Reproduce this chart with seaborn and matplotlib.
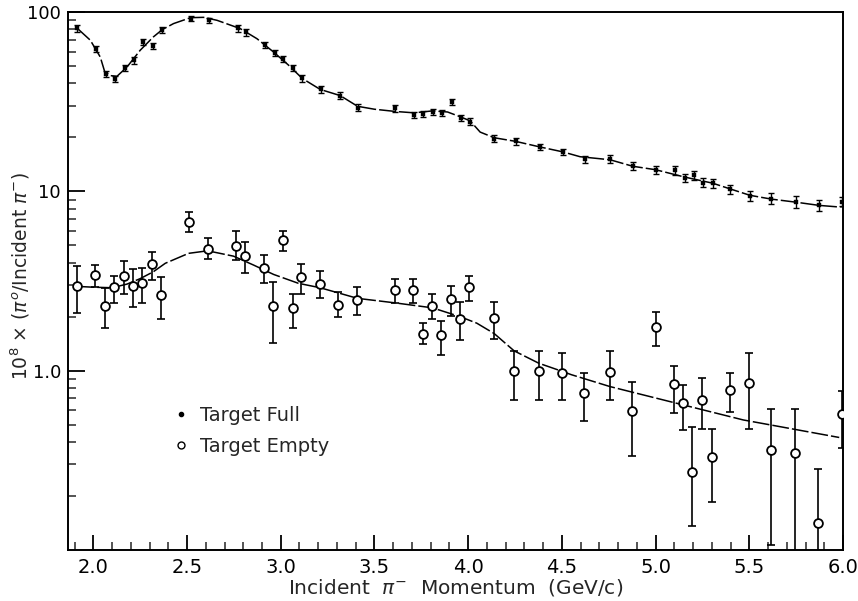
import matplotlib
matplotlib.use("Agg")
import matplotlib.pyplot as plt
from matplotlib.ticker import FixedLocator, NullFormatter, MultipleLocator
from matplotlib.lines import Line2D
import seaborn as sns
import pandas as pd

# ---- Target Full data ----
x_full = [1.915, 2.015, 2.068, 2.117, 2.167, 2.217, 2.267, 2.316, 2.368, 2.519, 2.619, 2.770,
          2.814, 2.917, 2.967, 3.013, 3.065, 3.115, 3.213, 3.317, 3.410, 3.611, 3.712, 3.760,
          3.812, 3.860, 3.916, 3.961, 4.011, 4.139, 4.253, 4.381, 4.505, 4.624, 4.757, 4.878,
          5.003, 5.104, 5.157, 5.205, 5.255, 5.305, 5.399, 5.504, 5.618, 5.749, 5.872, 5.996]
y_full = [81, 62, 45, 42.2, 48.7, 53.8, 68, 64.7, 79.8, 92, 90, 81,
          77, 65.5, 58.9, 54.5, 48.8, 42.6, 37, 34.2, 29.3, 29, 26.6, 27,
          27.7, 27.4, 31.5, 25.6, 24.5, 19.7, 19.0, 17.7, 16.6, 15.1, 15.1, 13.8,
          13.2, 13.1, 11.9, 12.3, 11.2, 11.1, 10.3, 9.4, 9.1, 8.75, 8.4, 8.75]
err_full = [3.3, 2.5, 1.8, 1.7, 2.0, 2.2, 2.7, 2.6, 3.2, 2.8, 2.7, 3.2,
            3.1, 2.6, 2.4, 2.2, 2.0, 1.7, 1.5, 1.4, 1.2, 1.2, 1.1, 1.1,
            1.1, 1.1, 1.3, 1.0, 1.0, 0.8, 0.8, 0.7, 0.7, 0.7, 0.8, 0.7,
            0.7, 0.8, 0.6, 0.7, 0.6, 0.6, 0.6, 0.6, 0.65, 0.65, 0.6, 0.5]

# ---- Target Empty data ----
x_empty = [1.915, 2.011, 2.060, 2.112, 2.164, 2.213, 2.261, 2.315, 2.361, 2.512, 2.612, 2.761,
           2.809, 2.909, 2.958, 3.011, 3.063, 3.109, 3.207, 3.308, 3.408, 3.607, 3.705, 3.757,
           3.808, 3.856, 3.908, 3.957, 4.003, 4.139, 4.245, 4.377, 4.503, 4.620, 4.757, 4.876,
           5.001, 5.097, 5.148, 5.196, 5.250, 5.300, 5.399, 5.499, 5.614, 5.746, 5.865, 5.995]
y_empty = [2.98, 3.40, 2.29, 2.93, 3.37, 2.96, 3.09, 3.91, 2.64, 6.74, 4.78, 4.97,
           4.35, 3.75, 2.29, 5.35, 2.23, 3.31, 3.04, 2.31, 2.49, 2.82, 2.82, 1.61,
           2.30, 1.58, 2.50, 1.95, 2.94, 1.97, 1.00, 0.99, 0.975, 0.748, 0.987, 0.596,
           1.76, 0.843, 0.658, 0.272, 0.687, 0.332, 0.784, 0.858, 0.362, 0.349, 0.141, 0.574]
hi_empty = [3.82, 3.90, 2.88, 3.37, 4.07, 3.67, 3.73, 4.58, 3.34, 7.69, 5.51, 6.0,
            5.23, 4.39, 3.13, 6.03, 2.67, 3.93, 3.61, 2.74, 2.92, 3.23, 3.23, 1.85,
            2.67, 1.88, 2.97, 2.42, 3.38, 2.40, 1.29, 1.28, 1.26, 0.975, 1.29, 0.862,
            2.12, 1.066, 0.832, 0.488, 0.907, 0.472, 0.975, 1.25, 0.609, 0.609, 0.283, 0.774]
lo_empty = [2.09, 2.92, 1.72, 2.39, 2.66, 2.26, 2.37, 3.20, 1.94, 5.90, 4.18, 4.15,
            3.49, 3.07, 1.42, 4.66, 1.72, 2.66, 2.53, 2.00, 2.04, 2.37, 2.37, 1.41,
            1.95, 1.22, 2.02, 1.48, 2.45, 1.51, 0.687, 0.687, 0.687, 0.525, 0.687, 0.335,
            1.38, 0.584, 0.467, 0.136, 0.472, 0.186, 0.589, 0.473, 0.107, 0.05, 0.05, 0.369]

# ---- Fitted curves ----
cx_full = [1.915, 1.984, 2.037, 2.06, 2.09, 2.126, 2.18, 2.25, 2.32, 2.368, 2.428, 2.519,
           2.588, 2.66, 2.784, 2.873, 2.962, 3.042, 3.115, 3.211, 3.317, 3.41, 3.5, 3.61,
           3.712, 3.81, 3.89, 3.96, 4.011, 4.064, 4.139, 4.253, 4.381, 4.505, 4.597, 4.757,
           4.878, 5.0, 5.157, 5.305, 5.4, 5.504, 5.618, 5.749, 5.872, 5.966, 6.0]
cy_full = [81, 69.6, 56.1, 46.7, 44.2, 43.8, 49.4, 61.2, 72.6, 79.8, 86.2, 93,
           93.4, 89.9, 80.8, 71, 59.8, 50.5, 42.6, 37, 34.2, 29.8, 28.7, 27.9,
           27.4, 28.1, 27.7, 26, 24.7, 21.4, 19.9, 19.0, 17.7, 16.6, 15.6, 15.0,
           13.8, 13.2, 12.0, 11.1, 10.3, 9.5, 9.05, 8.7, 8.35, 8.2, 8.2]
cx_empty = [1.915, 2.0, 2.1, 2.18, 2.25, 2.32, 2.384, 2.508, 2.61, 2.748, 2.855, 2.962,
            3.094, 3.21, 3.41, 3.607, 3.81, 3.957, 4.046, 4.139, 4.245, 4.377, 4.503, 4.55,
            4.757, 5.077, 5.468, 5.98]
cy_empty = [2.95, 2.92, 2.90, 3.04, 3.26, 3.56, 3.97, 4.51, 4.66, 4.35, 3.88, 3.44,
            3.07, 2.90, 2.53, 2.39, 2.24, 2.0, 1.84, 1.61, 1.29, 1.10, 0.99, 0.95,
            0.815, 0.672, 0.531, 0.424]

x_ticks = [2.0, 2.5, 3.0, 3.5, 4.0, 4.5, 5.0, 5.5, 6.0]
x_ticklabels = ["2.0", "2.5", "3.0", "3.5", "4.0", "4.5", "5.0", "5.5", "6.0"]
y_ticks = [1.0, 10, 100]
y_ticklabels = ["1.0", "10", "100"]

sns.set_style("ticks")
plt.rcParams["font.family"] = ["DejaVu Sans"]

fig = plt.figure(figsize=(8.58, 6.01), dpi=100)
ax = fig.add_axes([0.0793, 0.0849, 0.9032, 0.8951])

df_cf = pd.DataFrame({"x": cx_full, "y": cy_full})
df_ce = pd.DataFrame({"x": cx_empty, "y": cy_empty})
sns.lineplot(data=df_cf, x="x", y="y", ax=ax, color="black", lw=1.1, sort=False,
             estimator=None)
sns.lineplot(data=df_ce, x="x", y="y", ax=ax, color="black", lw=1.1, sort=False,
             estimator=None)
for ln in ax.lines:
    ln.set_dashes((11, 2))

# error bars
ax.errorbar(x_full, y_full, yerr=err_full, fmt="none", ecolor="black",
            elinewidth=1.0, capsize=2, capthick=1.0, zorder=3)
yerr_lo = [y - l for y, l in zip(y_empty, lo_empty)]
yerr_hi = [h - y for y, h in zip(y_empty, hi_empty)]
ax.errorbar(x_empty, y_empty, yerr=[yerr_lo, yerr_hi], fmt="none", ecolor="black",
            elinewidth=1.2, capsize=3, capthick=1.2, zorder=3)

df_f = pd.DataFrame({"x": x_full, "y": y_full})
df_e = pd.DataFrame({"x": x_empty, "y": y_empty})
sns.scatterplot(data=df_f, x="x", y="y", ax=ax, color="black", s=12, marker="s",
                edgecolor="black", zorder=4)
sns.scatterplot(data=df_e, x="x", y="y", ax=ax, facecolor="white", s=40, marker="o",
                edgecolor="black", linewidth=1.3, zorder=5)

ax.set_yscale("log")
ax.set_xlim(1.865, 6.0)
ax.set_ylim(0.1, 100)

ax.xaxis.set_major_locator(FixedLocator(x_ticks))
ax.set_xticklabels(x_ticklabels)
ax.xaxis.set_minor_locator(MultipleLocator(0.1))
ax.yaxis.set_major_locator(FixedLocator(y_ticks))
ax.set_yticklabels(y_ticklabels)
ax.yaxis.set_minor_locator(FixedLocator([0.2, 0.3, 0.4, 0.5, 0.6, 0.7, 0.8, 0.9,
                                         2, 3, 4, 5, 6, 7, 8, 9,
                                         20, 30, 40, 50, 60, 70, 80, 90]))
ax.yaxis.set_minor_formatter(NullFormatter())

ax.tick_params(axis="both", which="major", direction="in", length=12, width=1.3,
               labelsize=14, pad=6, colors="black")
ax.tick_params(axis="y", which="major", labelsize=13, pad=5)
ax.tick_params(axis="both", which="minor", direction="in", length=6, width=1.1)
ax.tick_params(axis="x", which="major", length=11)
for sp in ax.spines.values():
    sp.set_visible(True)
    sp.set_linewidth(1.4)
    sp.set_color("black")

ax.set_xlabel("Incident  $\\pi^{-}$  Momentum  (GeV/c)", fontsize=14.5, labelpad=0)
ax.set_ylabel("10$^{8}$ × ($\\pi^{o}$/Incident $\\pi^{-}$)", fontsize=13.5)
ax.yaxis.set_label_coords(-0.047, 0.51)

handles = [Line2D([], [], ls="none", marker="o", markersize=3, color="black"),
           Line2D([], [], ls="none", marker="o", markersize=5, markerfacecolor="white",
                  markeredgecolor="black")]
ax.legend(handles, ["Target Full", "Target Empty"], loc="upper left",
          bbox_to_anchor=(0.11, 0.30), frameon=False, fontsize=14,
          handletextpad=0.5, labelspacing=0.6, handlelength=1.0)

fig.savefig("out.png", dpi=100)
